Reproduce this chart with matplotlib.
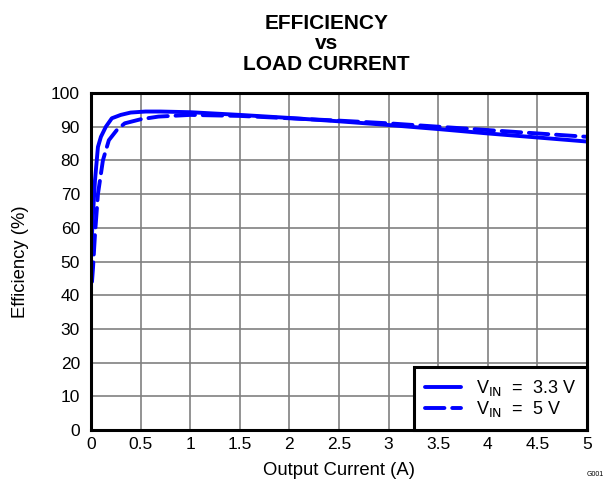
import matplotlib
matplotlib.use("Agg")
import matplotlib.pyplot as plt

plt.rcParams['font.family'] = ['Liberation Sans', 'DejaVu Sans']

# Data
i_33 = [0.005, 0.02, 0.04, 0.07, 0.1, 0.15, 0.21, 0.3, 0.4, 0.55, 0.7, 1.0, 1.5, 2.0, 2.5, 3.0, 3.5, 4.0, 4.5, 5.0]
eff_33 = [55, 64, 74, 84, 87, 90, 92.5, 93.5, 94.2, 94.5, 94.5, 94.3, 93.5, 92.6, 91.6, 90.5, 89.3, 88.0, 86.8, 85.6]
i_5 = [0.01, 0.02, 0.04, 0.07, 0.12, 0.18, 0.26, 0.34, 0.5, 0.68, 1.0, 1.5, 2.0, 2.5, 3.0, 3.5, 4.0, 4.5, 5.0]
eff_5 = [44, 48, 58, 70, 80, 86, 89, 91, 92.2, 93, 93.5, 93.2, 92.5, 91.8, 91.0, 90.0, 89.0, 88.0, 87.0]

x_ticks = [0, 0.5, 1, 1.5, 2, 2.5, 3, 3.5, 4, 4.5, 5]
x_labels = ['0', '0.5', '1', '1.5', '2', '2.5', '3', '3.5', '4', '4.5', '5']
y_ticks = list(range(0, 101, 10))

fig = plt.figure(figsize=(6.13, 4.8), dpi=100)
ax = fig.add_axes([91/613, 50/480, 496/613, 337/480])

ax.plot(i_33, eff_33, color='#0000FF', lw=2.8, solid_capstyle='round', label=r'V$_{\mathrm{IN}}$  =  3.3 V')
ax.plot(i_5, eff_5, color='#0000FF', lw=2.8, dashes=[5, 2.0], dash_capstyle='round', label=r'V$_{\mathrm{IN}}$  =  5 V')

ax.set_xlim(0, 5)
ax.set_ylim(0, 100)
ax.set_xticks(x_ticks)
ax.set_xticklabels(x_labels)
ax.set_yticks(y_ticks)
ax.tick_params(length=0, labelsize=12.5)
ax.tick_params(axis='y', pad=8)
ax.tick_params(axis='x', pad=5)
ax.grid(True, color='#808080', lw=1.2)
ax.set_axisbelow(True)
for s in ax.spines.values():
    s.set_linewidth(2.2)
    s.set_color('black')

ax.set_xlabel('Output Current (A)', fontsize=13.3, labelpad=7)
ax.set_ylabel('Efficiency (%)', fontsize=13.3, labelpad=16)

fig.text(0.533, 0.940, 'EFFICIENCY', ha='center', va='baseline', fontsize=15, fontweight='bold')
fig.text(0.533, 0.8975, 'vs', ha='center', va='baseline', fontsize=15, fontweight='bold')
fig.text(0.533, 0.855, 'LOAD CURRENT', ha='center', va='baseline', fontsize=15, fontweight='bold')

fig.text(0.985, 0.005, 'G001', ha='right', va='bottom', fontsize=5)

leg = ax.legend(loc='lower right', fontsize=13, frameon=True, fancybox=False,
                borderaxespad=0, handlelength=2.0, handletextpad=0.8,
                borderpad=0.6, labelspacing=0.05)
leg.get_frame().set_edgecolor('black')
leg.get_frame().set_linewidth(2.2)
leg.get_frame().set_alpha(1)

fig.savefig('out.png', dpi=100)
